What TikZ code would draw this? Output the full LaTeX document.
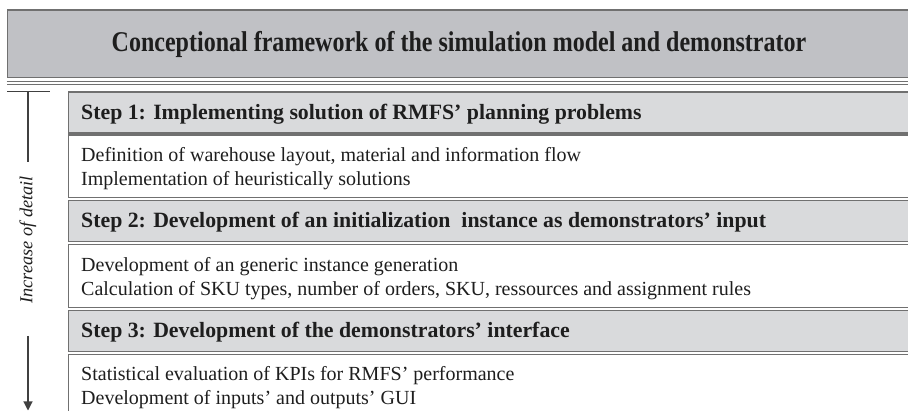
\documentclass[tikz,border=0pt]{standalone}
\usepackage{fontspec}
\setmainfont{Liberation Serif}
\newfontfamily\titlefont[FakeStretch=0.84]{Liberation Serif}
\usetikzlibrary{arrows.meta}
\definecolor{titlefill}{RGB}{192,193,197}
\definecolor{headfill}{RGB}{217,218,220}
\definecolor{edge}{RGB}{112,112,112}
\definecolor{ink}{RGB}{30,30,30}
\begin{document}
\begin{tikzpicture}[x=1pt,y=-1pt]
\useasboundingbox (0,0) rectangle (908,411);
\clip (0,0) rectangle (908,411);
\tikzset{
  framebox/.style={draw=edge, line width=1.2pt, anchor=north west, inner sep=0pt, minimum width=850pt},
  headbox/.style={framebox, fill=headfill, minimum height=41pt},
  bodybox/.style={framebox, fill=white, minimum height=63pt},
  headtext/.style={anchor=base west, inner sep=0pt, text=ink, font=\bfseries\fontsize{21.8}{26}\selectfont},
  bodytext/.style={anchor=base west, inner sep=0pt, text=ink, font=\fontsize{20}{24}\selectfont},
  rule/.style={draw=ink!85!white, line width=1.1pt}
}
% title
\node[framebox, fill=titlefill, minimum width=910pt, minimum height=67.5pt] (title) at (6.7,9.5) {};
\node[inner sep=0pt, text=ink, font=\titlefont\bfseries\fontsize{28.6}{32}\selectfont] (titletext) at (459,44) {Conceptional framework of the simulation model and demonstrator};
\coordinate (dl1) at (6.7,83);
\coordinate (dl2) at (912,83);
\draw[edge, line width=1pt, double=white, double distance=1.4pt] (dl1) -- (dl2);

% boxes
\node[headbox] (h1) at (68,91.5) {};
\node[bodybox, minimum height=62.5pt] (b1) at (68,134.5) {};
\node[headbox] (h2) at (68,200) {};
\node[bodybox] (b2) at (68,244) {};
\node[headbox] (h3) at (68,310) {};
\node[bodybox, minimum height=80pt] (b3) at (68,354) {};

% texts
\node[headtext] (t1) at (81,119.5) {Step 1: Implementing solution of RMFS’ planning problems};
\node[bodytext] (t1a) at (81,161.5) {Definition of warehouse layout, material and information flow};
\node[bodytext] (t1b) at (81,185.5) {Implementation of heuristically solutions};
\node[headtext] (t2) at (81,228) {Step 2: Development of an initialization\ \ instance as demonstrators’ input};
\node[bodytext] (t2a) at (81,271.5) {Development of an generic instance generation};
\node[bodytext] (t2b) at (81,296) {Calculation of SKU types, number of orders, SKU, ressources and assignment rules};
\node[headtext] (t3) at (81,338) {Step 3: Development of the demonstrators’ interface};
\node[bodytext] (t3a) at (81,380.5) {Statistical evaluation of KPIs for RMFS’ performance};
\node[bodytext] (t3b) at (81,404.5) {Development of inputs’ and outputs’ GUI};

% arrow
\coordinate (tk1) at (7,91.5);
\coordinate (tk2) at (50,91.5);
\coordinate (v0) at (28,91.5);
\coordinate (v1) at (28,162);
\coordinate (v2) at (28,336);
\coordinate (v3) at (28,410.5);
\draw[rule] (tk1) -- (tk2);
\draw[rule] (v0) -- (v1);
\draw[rule, -{Triangle[length=9pt,width=9pt]}] (v2) -- (v3);
\node[rotate=90, inner sep=0pt, text=ink, font=\itshape\fontsize{18.3}{22}\selectfont] (lbl) at (28,240) {Increase of detail};
\end{tikzpicture}
\end{document}
